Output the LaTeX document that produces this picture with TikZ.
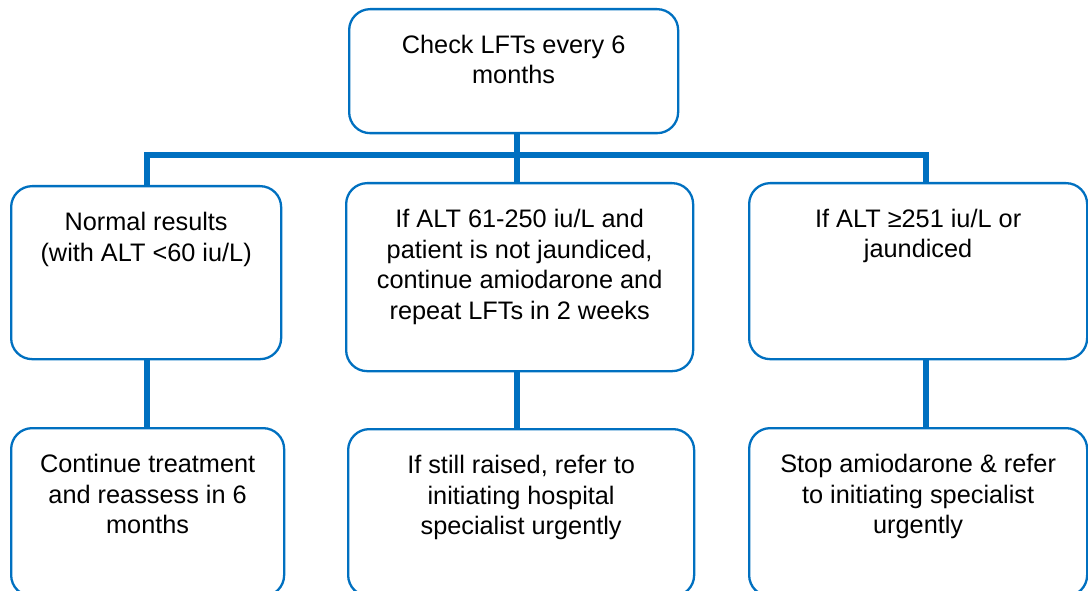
\documentclass[tikz,border=0pt]{standalone}
\usepackage{fontspec}
\setmainfont{Liberation Sans}
\definecolor{fcblue}{HTML}{0070C0}
\begin{document}
\begin{tikzpicture}[x=1pt,y=-1pt,
  font=\fontsize{25.3}{30.5}\selectfont,
  fcbox/.style={draw=fcblue, line width=2.3pt, rounded corners=21pt, inner sep=0pt, anchor=north west, fill=white},
  conn/.style={draw=fcblue, line width=6pt, line join=miter}]
\useasboundingbox (0,0) rectangle (1088,591);
\clip (0,0) rectangle (1088,591);
% boxes
\node[fcbox] (top) at (348,8) {\parbox[c][124pt][t]{329pt}{\centering\vspace*{23pt}\strut Check LFTs every 6\\months}};
\node[fcbox] (midL) at (10,185) {\parbox[c][173pt][t]{270pt}{\centering\vspace*{23pt}\strut Normal results\\(with ALT <60 iu/L)}};
\node[fcbox] (midM) at (345,182) {\parbox[c][188pt][t]{347pt}{\centering\vspace*{23pt}\strut If ALT 61-250 iu/L and\\patient is not jaundiced,\\continue amiodarone and\\repeat LFTs in 2 weeks}};
\node[fcbox] (midR) at (748,182) {\parbox[c][176pt][t]{338pt}{\centering\vspace*{23pt}\strut If ALT ≥251 iu/L or\\jaundiced}};
\node[fcbox] (botL) at (10,427) {\parbox[c][168pt][t]{273pt}{\centering\vspace*{23pt}\strut Continue treatment\\and reassess in 6\\months}};
\node[fcbox] (botM) at (347,428) {\parbox[c][167pt][t]{346pt}{\centering\vspace*{23pt}\strut If still raised, refer to\\initiating hospital\\specialist urgently}};
\node[fcbox] (botR) at (748,427) {\parbox[c][168pt][t]{338pt}{\centering\vspace*{23pt}\strut Stop amiodarone \& refer\\to initiating specialist\\urgently}};
% junction coordinates
\coordinate (jL) at (147,155.5);
\coordinate (jM) at (517,155.5);
\coordinate (jR) at (926,155.5);
% connectors
\draw[conn] (midL.north -| jL) -- (jL) -- (jR) -- (midR.north -| jR);
\draw[conn] (top.south -| jM) -- (midM.north -| jM);
\draw[conn] (midL.south -| jL) -- (botL.north -| jL);
\draw[conn] (midM.south -| jM) -- (botM.north -| jM);
\draw[conn] (midR.south -| jR) -- (botR.north -| jR);
\end{tikzpicture}
\end{document}
